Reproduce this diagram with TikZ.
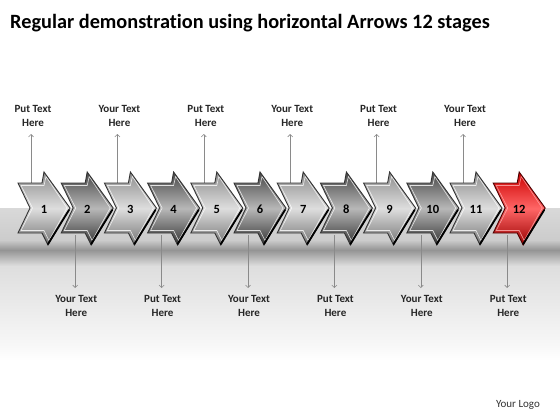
\documentclass[tikz,border=0pt]{standalone}
\usepackage{fontspec}
\setmainfont[Ligatures=NoCommon]{Carlito}
\usetikzlibrary{arrows.meta}
\definecolor{lineg}{HTML}{8A8A8A}
\tikzset{
  lbl/.style={font=\bfseries\fontsize{11}{14}\selectfont, align=center, inner sep=0pt, text=black!85},
  num/.style={font=\bfseries\fontsize{12.5}{12}\selectfont, inner sep=0pt, text=black},
  callout/.style={draw=lineg, line width=0.6pt, -{Straight Barb[length=2.5pt,width=5pt]}},
  oddarrow/.style={top color=black!45, bottom color=black!55, middle color=black!13},
  evenarrow/.style={top color=black!72, bottom color=black!80, middle color=black!28},
  redarrow/.style={top color=red!80!black, bottom color=red!60!black, middle color=red!60!white},
}
\newcommand\chevpath[1]{(#1,183) -- (#1+24,183) -- (#1+26,172) -- (#1+52,208) -- (#1+30,245) -- (#1+24,233) -- (#1,233) -- (#1+12,208) -- cycle}
\newcommand\chevinner[1]{(#1+3,185.5) -- (#1+26,185.5) -- (#1+28,176.5) -- (#1+49,208) -- (#1+31,240.5) -- (#1+26,230.5) -- (#1+3,230.5) -- (#1+14.5,208) -- cycle}
\begin{document}
\begin{tikzpicture}[x=1pt,y=-1pt]
\useasboundingbox (0,0) rectangle (560,420);
\fill[white] (0,0) rectangle (560,420);
% background band
\shade[top color=black!15, bottom color=black!20] (0,208) rectangle (560,240);
\shade[top color=black!20, bottom color=black!42] (0,240) rectangle (560,250);
\shade[top color=black!42, bottom color=black!13] (0,250) rectangle (560,266);
\shade[top color=black!13, bottom color=black!3] (0,266) rectangle (560,345);
\shade[top color=black!3, bottom color=white] (0,345) rectangle (560,360);
% title
\node[anchor=base west, inner sep=0pt, font=\bfseries\fontsize{20.3}{22}\selectfont] (title) at (10,29) {Regular demonstration using horizontal Arrows 12 stages};
% callout lines behind arrows
\foreach \i/\t in {1/Put Text,3/Your Text,5/Put Text,7/Your Text,9/Put Text,11/Your Text} {
  \pgfmathsetmacro\xo{18+(\i-1)*43.2}
  \coordinate (s\i) at (\xo+13,190);
  \coordinate (e\i) at (\xo+13,134);
  \node[lbl] (t\i) at (\xo+15,116) {\t\\Here};
  \draw[callout] (s\i) -- (e\i);
}
\foreach \i/\t in {2/Your Text,4/Put Text,6/Your Text,8/Put Text,10/Your Text,12/Put Text} {
  \pgfmathsetmacro\xo{18+(\i-1)*43.2}
  \coordinate (s\i) at (\xo+14,235);
  \coordinate (e\i) at (\xo+14,288);
  \node[lbl] (t\i) at (\xo+15,306) {\t\\Here};
  \draw[callout] (s\i) -- (e\i);
}
% arrows
\foreach \i in {1,...,12} {
  \pgfmathsetmacro\xo{18+(\i-1)*43.2}
  \ifnum\i=12
    \path[redarrow] \chevpath{\xo};
    \draw[white!70!red, line width=0.6pt, opacity=0.8] \chevinner{\xo};
    \draw[red!30!black, line width=0.9pt, line join=miter] \chevpath{\xo};
  \else
    \ifodd\i
      \path[oddarrow] \chevpath{\xo};
    \else
      \path[evenarrow] \chevpath{\xo};
    \fi
    \draw[white, line width=0.6pt, opacity=0.8] \chevinner{\xo};
    \draw[black!80, line width=0.9pt, line join=miter] \chevpath{\xo};
  \fi
  \draw[black, line width=1.8pt, line cap=round] (\xo+51,210) -- (\xo+30,244);
  \node[num] (n\i) at (\xo+26,209) {\i};
}
\node[font=\fontsize{11}{12}\selectfont, inner sep=0pt, text=black!80] (logo) at (518,405) {Your Logo};
\end{tikzpicture}
\end{document}
